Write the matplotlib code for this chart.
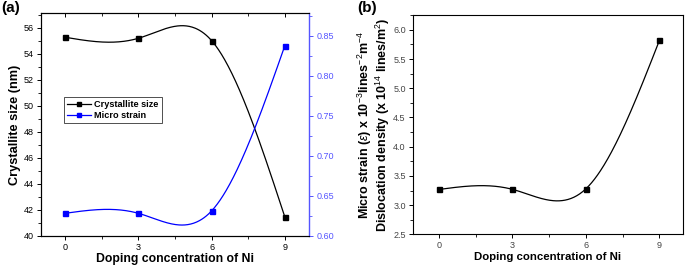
import numpy as np
import matplotlib
matplotlib.use("Agg")
import matplotlib.pyplot as plt
from matplotlib.ticker import MultipleLocator, FormatStrFormatter
from matplotlib.lines import Line2D
import matplotlib.lines as mlines

plt.rcParams['font.family'] = ['Liberation Sans', 'DejaVu Sans']
plt.rcParams['mathtext.fontset'] = 'custom'
plt.rcParams['mathtext.rm'] = 'Liberation Sans'
plt.rcParams['mathtext.bf'] = 'Liberation Sans:bold'
plt.rcParams['mathtext.it'] = 'Liberation Sans:italic'

doping = [0, 3, 6, 9]
crystallite_size = [55.28, 55.2, 55.02, 41.44]
micro_strain = [0.628, 0.628, 0.631, 0.8375]
dislocation = [3.268, 3.27, 3.28, 5.82]


def natural_spline(x, y, n=300):
    x = np.asarray(x, float)
    y = np.asarray(y, float)
    m = len(x)
    h = np.diff(x)
    A = np.zeros((m, m))
    b = np.zeros(m)
    A[0, 0] = 1
    A[-1, -1] = 1
    for i in range(1, m - 1):
        A[i, i - 1] = h[i - 1]
        A[i, i] = 2 * (h[i - 1] + h[i])
        A[i, i + 1] = h[i]
        b[i] = 3 * ((y[i + 1] - y[i]) / h[i] - (y[i] - y[i - 1]) / h[i - 1])
    c = np.linalg.solve(A, b)
    xs = np.linspace(x[0], x[-1], n)
    ys = np.empty_like(xs)
    for k, xv in enumerate(xs):
        i = min(np.searchsorted(x, xv, side='right') - 1, m - 2)
        dx = xv - x[i]
        bi = (y[i + 1] - y[i]) / h[i] - h[i] * (2 * c[i] + c[i + 1]) / 3
        di = (c[i + 1] - c[i]) / (3 * h[i])
        ys[k] = y[i] + bi * dx + c[i] * dx ** 2 + di * dx ** 3
    return xs, ys


fig = plt.figure(figsize=(6.85, 2.70), dpi=100)
blue = '#0000ff'
axblue = '#5555ff'
tick_fs = 6.5
ms = 3.6

# ---------- Panel (a) ----------
ax = fig.add_axes([0.0594, 0.127, 0.3921, 0.824])
ax2 = ax.twinx()
xs, ys = natural_spline(doping, crystallite_size)
ax.plot(xs, ys, color='black', lw=0.9)
ax.plot(doping, crystallite_size, 's', color='black', ms=ms)
xs2, ys2 = natural_spline(doping, micro_strain)
ax2.plot(xs2, ys2, color=blue, lw=0.9)
ax2.plot(doping, micro_strain, 's', color=blue, ms=ms)

ax.set_xlim(-1, 10)
ax.set_ylim(40, 57.13)
ax2.set_ylim(0.60, 0.878)
ax.set_xticks([0, 3, 6, 9])
ax.xaxis.set_minor_locator(MultipleLocator(1.5))
ax.yaxis.set_major_locator(MultipleLocator(2))
ax.yaxis.set_minor_locator(MultipleLocator(1))
ax2.yaxis.set_major_locator(MultipleLocator(0.05))
ax2.yaxis.set_minor_locator(MultipleLocator(0.025))
ax2.yaxis.set_major_formatter(FormatStrFormatter('%.2f'))

ax.tick_params(axis='x', which='both', direction='out', top=True, labelsize=tick_fs, pad=2)
ax.tick_params(axis='x', which='major', length=3, width=0.7)
ax.tick_params(axis='x', which='minor', length=2, width=0.6)
ax.tick_params(axis='y', which='major', direction='out', length=3, width=0.7, labelsize=tick_fs, pad=2)
ax.tick_params(axis='y', which='minor', direction='out', length=2, width=0.6)
for t in ax.xaxis.get_major_ticks() + ax.xaxis.get_minor_ticks():
    t.tick2line.set_marker(mlines.TICKDOWN)
ax2.tick_params(axis='y', which='major', direction='out', length=3, width=0.7,
                labelsize=tick_fs, colors=axblue, pad=2)
ax2.tick_params(axis='y', which='minor', direction='out', length=2, width=0.6, colors=axblue)
ax2.spines['right'].set_color(axblue)
ax2.spines['right'].set_linewidth(1.0)
for s in ['left', 'top', 'bottom']:
    ax.spines[s].set_linewidth(0.8)
    ax2.spines[s].set_linewidth(0.8)
ax.spines['right'].set_visible(False)

ax.set_xlabel('Doping concentration of Ni', fontsize=8.8, fontweight='bold', labelpad=1)
ax.set_ylabel('Crystallite size (nm)', fontsize=9.2, fontweight='bold', labelpad=2)

h1 = Line2D([], [], color='black', marker='s', ms=3, lw=0.9)
h2 = Line2D([], [], color=blue, marker='s', ms=3, lw=0.9)
leg = ax.legend([h1, h2], ['Crystallite size', 'Micro strain'], loc='upper left',
                bbox_to_anchor=(0.087, 0.624), prop={'weight': 'bold', 'size': 6.6},
                frameon=True, fancybox=False, edgecolor='black', handlelength=2.6,
                handletextpad=0.35, borderpad=0.35, labelspacing=0.2, borderaxespad=0)
leg.get_frame().set_linewidth(0.6)

fig.text(0.002, 0.997, '(a)', fontsize=11, fontweight='bold', va='top', ha='left')

# ---------- Panel (b) ----------
bx = fig.add_axes([0.6025, 0.132, 0.3942, 0.814])
xs3, ys3 = natural_spline(doping, dislocation)
bx.plot(xs3, ys3, color='black', lw=0.9)
bx.plot(doping, dislocation, 's', color='black', ms=ms)
bx.set_xlim(-1.07, 9.95)
bx.set_ylim(2.5, 6.26)
bx.set_xticks([0, 3, 6, 9])
bx.xaxis.set_minor_locator(MultipleLocator(1.5))
bx.yaxis.set_major_locator(MultipleLocator(0.5))
bx.yaxis.set_minor_locator(MultipleLocator(0.25))
bx.yaxis.set_major_formatter(FormatStrFormatter('%.1f'))
bx.tick_params(which='both', direction='out', top=False, right=False,
               labelsize=tick_fs, labelcolor='#444444', pad=2)
bx.tick_params(which='major', length=3, width=0.7)
bx.tick_params(which='minor', length=2, width=0.6)
for s in bx.spines.values():
    s.set_linewidth(0.8)
bx.set_xlabel('Doping concentration of Ni', fontsize=8.2, fontweight='bold', labelpad=1)
bx.set_ylabel('Micro strain ($\\varepsilon$) x 10$^{-3}$lines$^{-2}$m$^{-4}$\n'
              'Dislocation density (x 10$^{14}$ lines/m$^{2}$)',
              fontsize=9.0, fontweight='bold', labelpad=1, linespacing=1.0)
fig.text(0.522, 0.997, '(b)', fontsize=11, fontweight='bold', va='top', ha='left')

fig.savefig('out.png', dpi=100)
